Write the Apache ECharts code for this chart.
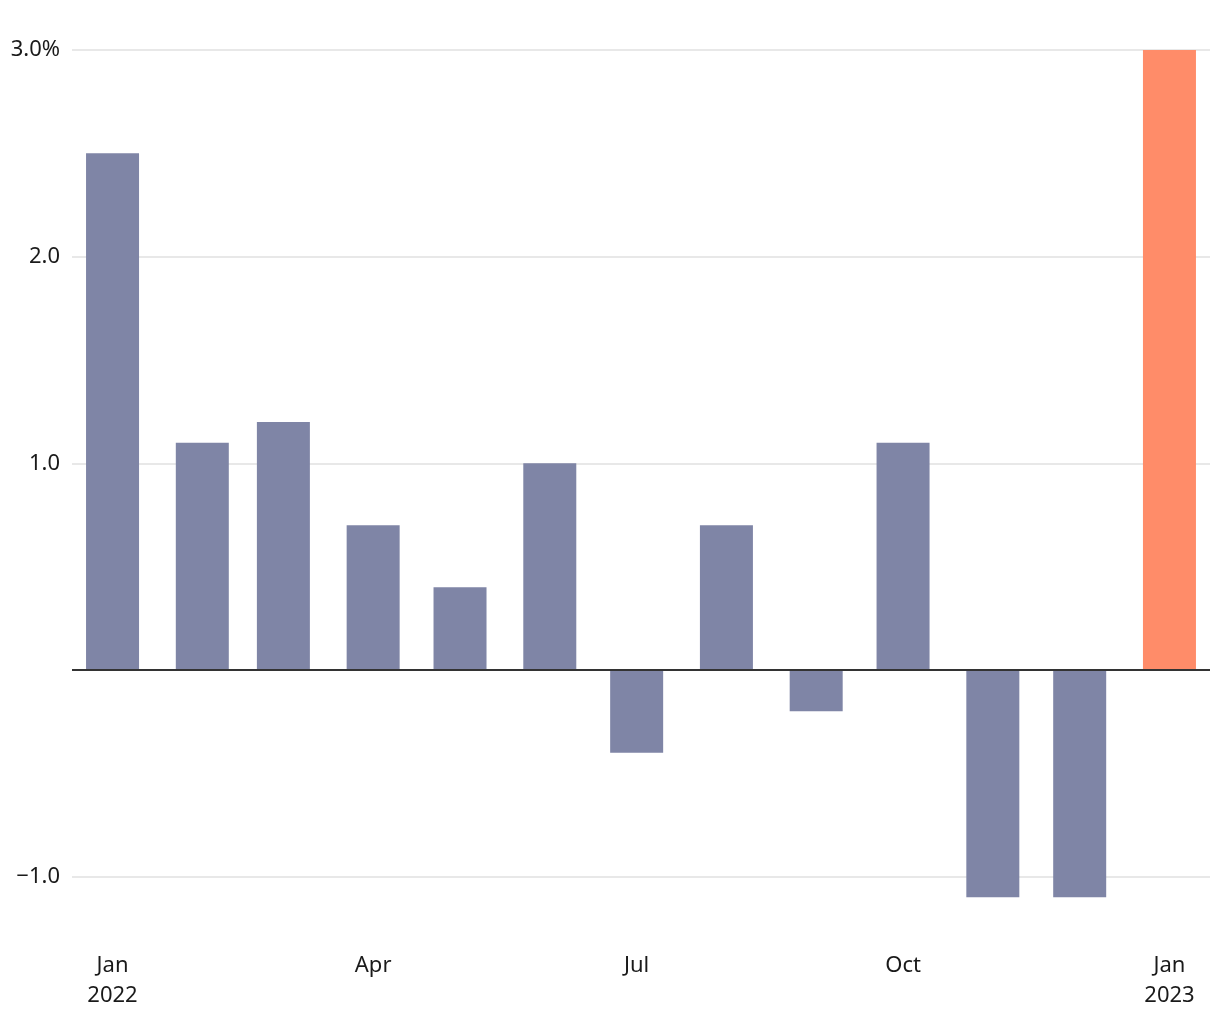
<!DOCTYPE html>
<html><head><meta charset="utf-8">
<script src="https://cdn.jsdelivr.net/npm/echarts@6/dist/echarts.min.js"></script>
<style>html,body{margin:0;padding:0;background:#fff}#c{width:1220px;height:1020px}</style>
</head><body><div id="c"></div>
<script>
const months = ['2022-01-01','2022-02-01','2022-03-01','2022-04-01','2022-05-01','2022-06-01','2022-07-01','2022-08-01','2022-09-01','2022-10-01','2022-11-01','2022-12-01','2023-01-01'];
const values = [2.5, 1.1, 1.2, 0.7, 0.4, 1.0, -0.4, 0.7, -0.2, 1.1, -1.1, -1.1, 3.0];
const highlight = [false,false,false,false,false,false,false,false,false,false,false,false,true];
const xTickDates = ['2022-01-01','2022-04-01','2022-07-01','2022-10-01','2023-01-01'];
const yTicks = [-1, 1, 2, 3];
const yGrid = [-1, 0, 1, 2, 3];

const FONT = '"Noto Sans", sans-serif';
const chart = echarts.init(document.getElementById('c'));
const ts = s => new Date(s + 'T00:00:00Z').getTime();
const monthNames = ['Jan','Feb','Mar','Apr','May','Jun','Jul','Aug','Sep','Oct','Nov','Dec'];

chart.setOption({
  animation: false,
  grid: {left: 72, right: 10, top: 50, bottom: 102, containLabel: false},
  xAxis: {
    type: 'value',
    min: ts('2021-12-18'),
    max: ts('2023-01-15'),
    axisLine: {show: false},
    axisTick: {show: false, customValues: xTickDates.map(ts)},
    splitLine: {show: false},
    axisLabel: {
      customValues: xTickDates.map(ts),
      margin: 33,
      fontFamily: FONT, fontSize: 22, color: '#1a1a1a', lineHeight: 30,
      formatter: function (v) {
        const d = new Date(v);
        const m = monthNames[d.getUTCMonth()];
        return d.getUTCMonth() === 0 ? m + '\n' + d.getUTCFullYear() : m;
      }
    }
  },
  yAxis: {
    type: 'value',
    min: -1.2, max: 3,
    axisLine: {show: false},
    axisTick: {show: false, customValues: yGrid},
    splitLine: {show: true, lineStyle: {color: '#e0e0e0', width: 1.5}},
    axisLabel: {
      customValues: yTicks,
      margin: 12,
      fontFamily: FONT, fontSize: 22, color: '#1a1a1a',
      formatter: function (v) {
        const s = Math.abs(v).toFixed(1);
        const t = (v < 0 ? '\u2212' : '') + s;
        return v === 3 ? t + '%' : t;
      }
    }
  },
  series: [{
    type: 'bar',
    barWidth: 53,
    data: months.map((m, i) => ({
      value: [ts(m), values[i]],
      itemStyle: {color: highlight[i] ? '#FF8C69' : '#7F85A6'}
    })),
    markLine: {
      silent: true, symbol: 'none', label: {show: false},
      lineStyle: {color: '#333', width: 2, type: 'solid'},
      data: [{yAxis: 0}]
    }
  }]
});
</script></body></html>
